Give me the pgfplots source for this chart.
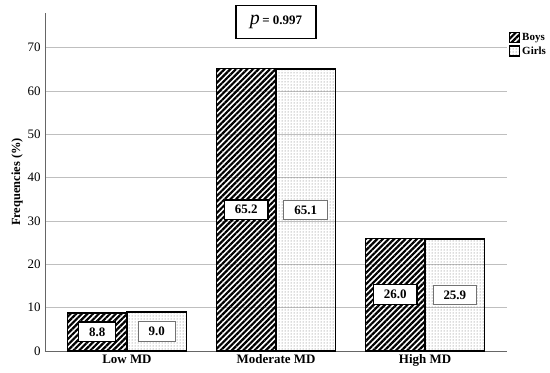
\documentclass[border=0pt]{standalone}
\usepackage{fontspec}
\setmainfont{Liberation Serif}
\usepackage{pgfplots}
\pgfplotsset{compat=1.18}
\usetikzlibrary{patterns.meta}
\begin{document}
\begin{tikzpicture}
\begin{axis}[
  at={(45bp,22bp)}, anchor=south west,
  scale only axis, width=462bp, height=338bp,
  xmin=-0.55, xmax=2.55, ymin=0, ymax=78,
  ybar=0pt, bar width=0.4,
  axis x line*=bottom, axis y line*=left,
  axis line style={black!60, line width=0.7pt, -},
  xtick={0,1,2}, xticklabels={Low MD, Moderate MD, High MD},
  xticklabel style={font=\bfseries\fontsize{13}{14}\selectfont, yshift=0bp},
  ytick={0,10,...,70},
  yticklabel style={font=\fontsize{13}{14}\selectfont, xshift=-1bp},
  /pgf/number format/assume math mode=true,
  ymajorgrids, grid style={black!25, line width=0.8pt},
  major tick length=0pt,
  ylabel={Frequencies (\%)},
  ylabel style={font=\bfseries\fontsize{12.5}{14}\selectfont, yshift=-2bp},
  clip=false,
  legend style={at={(rel axis cs:1.004,0.945)}, anchor=north west, draw=none, fill=none,
    font=\bfseries\fontsize{11}{12}\selectfont, inner sep=0pt, row sep=0.5bp,
    /tikz/every even column/.append style={column sep=1bp}},
  legend cell align=left,
  legend image code/.code={\draw[#1, line width=1.2pt] (0bp,-4.5bp) rectangle (10bp,5.5bp);},
  nodes near coords,
  visualization depends on={rawy \as \rawy},
  every node near coord/.append style={anchor=center, shift={(axis direction cs:0,-\rawy/2)},
    fill=white, font=\bfseries\fontsize{13}{14}\selectfont, text=black,
    inner xsep=10.5bp, inner ysep=5.5bp,
    /pgf/number format/fixed, /pgf/number format/fixed zerofill,
    /pgf/number format/precision=1},
]
\addplot[draw=black, line width=1.6pt,
  pattern={Lines[angle=45, distance=4bp, line width=2.2bp]}, pattern color=black,
  every node near coord/.append style={draw=black, line width=1.3pt}]
  coordinates {(0,8.8) (1,65.2) (2,26.0)};
\addplot[draw=black, line width=1.6pt,
  pattern={Dots[distance=3bp, radius=0.5bp]}, pattern color=black!60,
  every node near coord/.append style={draw=black!55, line width=1pt}]
  coordinates {(0,9.0) (1,65.1) (2,25.9)};
\legend{Boys, Girls}
\node[draw=black, line width=1.3pt, fill=white, minimum width=80bp, minimum height=33bp,
  inner sep=0pt] at (axis cs:1,75.9)
  {{\fontsize{20}{20}\selectfont\itshape p} {\bfseries\fontsize{13}{14}\selectfont = 0.997}};
\end{axis}
\pgfresetboundingbox
\path (0,0) rectangle (550bp,373bp);
\end{tikzpicture}
\end{document}
